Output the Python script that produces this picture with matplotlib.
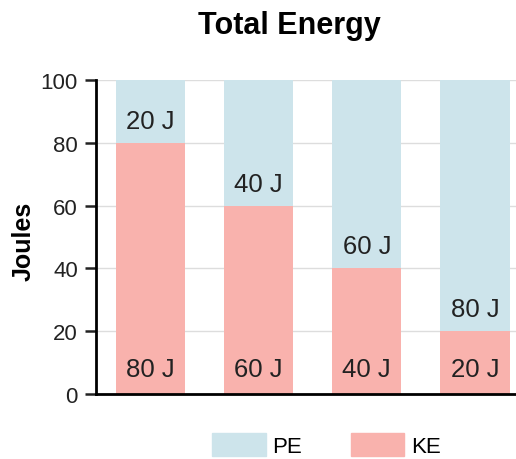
import matplotlib.pyplot as plt
from matplotlib.patches import Patch

plt.rcParams['font.family'] = ['Liberation Sans', 'DejaVu Sans']

cases = [0, 1, 2, 3]
ke = [80, 60, 40, 20]
pe = [20, 40, 60, 80]
pe_color = '#cde4eb'
ke_color = '#f9b2ad'

fig = plt.figure(figsize=(5.16, 4.6), dpi=100)
ax = fig.add_axes([96 / 516, 65 / 460, 420 / 516, 314 / 460])

ax.bar(cases, ke, width=0.64, color=ke_color, zorder=2)
ax.bar(cases, pe, width=0.64, bottom=ke, color=pe_color, zorder=2)

for x, k, p in zip(cases, ke, pe):
    ax.text(x, 8, f'{k} J', ha='center', va='center', fontsize=18.5, color='#222222', zorder=3)
    ax.text(x, k + 7, f'{p} J', ha='center', va='center', fontsize=18.5, color='#222222', zorder=3)

ax.set_xlim(-0.505, 3.38)
ax.set_ylim(0, 100)
ax.set_yticks([0, 20, 40, 60, 80, 100])
ax.tick_params(axis='y', labelsize=16, length=8, width=1.8, pad=5, colors='#222222')
ax.set_xticks([])
ax.grid(axis='y', color='#dddddd', linewidth=1, zorder=0)
for s in ['top', 'right']:
    ax.spines[s].set_visible(False)
ax.spines['left'].set_linewidth(2)
ax.spines['bottom'].set_linewidth(2)

fig.text(24 / 516, 1 - 241 / 460, 'Joules', fontsize=18, fontweight='bold',
         rotation=90, ha='center', va='center')
fig.text(289 / 516, 1 - 26 / 460, 'Total Energy', fontsize=22, fontweight='bold',
         ha='center', va='center')

handles = [Patch(color=pe_color, label='PE'), Patch(color=ke_color, label='KE')]
fig.legend(handles=handles, loc='center', bbox_to_anchor=(0.633, 0.03), ncol=2,
           frameon=False, fontsize=16, handlelength=2.4, handleheight=1.17,
           handletextpad=0.3, columnspacing=2.2, borderpad=0)

fig.savefig('out.png', dpi=100)
